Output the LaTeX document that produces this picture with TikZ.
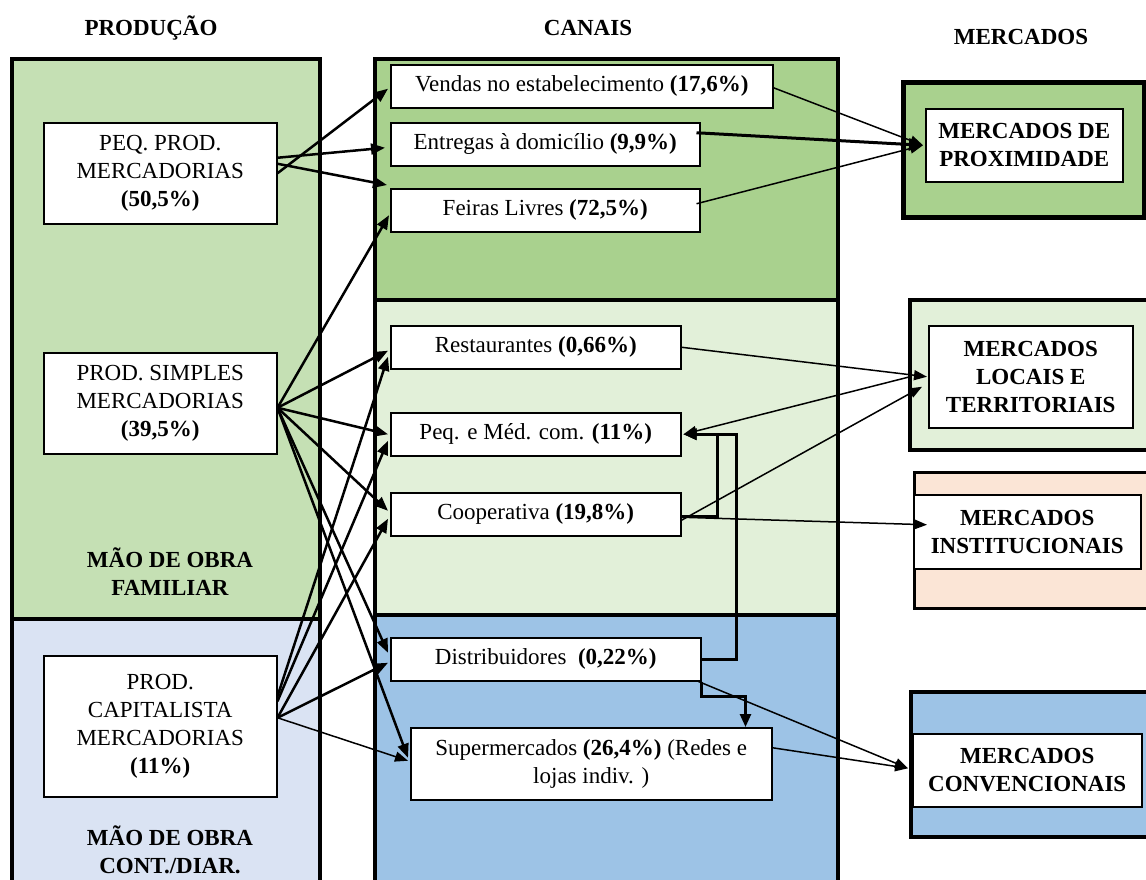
\documentclass[tikz,border=0pt]{standalone}
\usepackage{fontspec}
\setmainfont{Liberation Serif}
\usetikzlibrary{arrows.meta,calc}
\definecolor{gdark}{HTML}{A9D18E}
\definecolor{gmid}{HTML}{C5E0B4}
\definecolor{glight}{HTML}{E2F0D9}
\definecolor{bdark}{HTML}{9DC3E6}
\definecolor{blight}{HTML}{DAE3F3}
\definecolor{peach}{HTML}{FBE5D6}
\begin{document}
\begin{tikzpicture}[x=1pt,y=-1pt,
  panel/.style={draw=black,line width=4pt,anchor=north west,inner sep=0pt},
  box/.style={draw=black,line width=1.5pt,fill=white,anchor=north west,inner sep=0pt,align=center,font=\fontsize{23}{28}\selectfont},
  mbox/.style={box,font=\fontsize{23}{28}\selectfont\bfseries},
  head/.style={font=\fontsize{23}{28}\selectfont\bfseries,align=center,inner sep=0pt},
  thick arrow/.style={line width=2.5pt,-{Triangle[length=14pt,width=11pt]}},
  thin arrow/.style={line width=1.5pt,-{Triangle[length=13pt,width=10pt]}},
  bold arrow/.style={line width=3pt,-{Triangle[length=14pt,width=12pt]}},
  elbow/.style={line width=2.5pt,-{Triangle[length=13pt,width=11pt]}}
]
\useasboundingbox (0,0) rectangle (1146,879);
\clip (0,0) rectangle (1146,879);

% headers
\node[head] (hprod) at (151,28) {PRODUÇÃO};
\node[head] (hcan) at (588,28) {CANAIS};
\node[head] (hmer) at (1021,37) {MERCADOS};

% production panels
\node[panel,fill=gmid,minimum width=308pt,minimum height=560pt] (famP) at (10,57) {};
\node[panel,fill=blight,minimum width=308pt,minimum height=290pt] (conP) at (10,617) {};
\node[head] (lfam) at (170,572) {MÃO DE OBRA\\FAMILIAR};
\node[head] (lcon) at (170,850) {MÃO DE OBRA\\CONT./DIAR.};

% channel panels
\node[panel,fill=gdark,minimum width=463pt,minimum height=241pt] (topC) at (373,57) {};
\node[panel,fill=glight,minimum width=463pt,minimum height=315pt] (midC) at (373,298) {};
\node[panel,fill=bdark,minimum width=463pt,minimum height=290pt] (botC) at (373,613) {};

% market panels
\node[panel,fill=gdark,line width=4.5pt,minimum width=241pt,minimum height=135pt] (proxO) at (901,80) {};
\node[panel,fill=glight,minimum width=250pt,minimum height=150pt] (locO) at (908,298) {};
\node[panel,fill=peach,line width=3pt,minimum width=245pt,minimum height=136pt] (instO) at (913,471) {};
\node[panel,fill=bdark,minimum width=249pt,minimum height=145pt] (convO) at (909,690) {};

% production nodes
\node[box,minimum width=233pt,minimum height=101pt] (ppm) at (43,122) {PEQ. PROD.\\MERCADORIAS\\\textbf{(50,5\%)}};
\node[box,minimum width=233pt,minimum height=101pt] (psm) at (43,352) {PROD. SIMPLES\\MERCADORIAS\\\textbf{(39,5\%)}};
\node[box,minimum width=233pt,minimum height=141pt] (pcm) at (43,655) {PROD.\\CAPITALISTA\\MERCADORIAS\\\textbf{(11\%)}};

% channel nodes
\node[box,minimum width=382pt,minimum height=43pt] (vendas) at (390,64) {Vendas no estabelecimento \textbf{(17,6\%)}};
\node[box,minimum width=309pt,minimum height=43pt] (entregas) at (390,122) {Entregas à domicílio \textbf{(9,9\%)}};
\node[box,minimum width=309pt,minimum height=43pt] (feiras) at (390,188) {Feiras Livres \textbf{(72,5\%)}};
\node[box,minimum width=290pt,minimum height=43pt] (rest) at (390,325) {Restaurantes \textbf{(0,66\%)}};
\node[box,minimum width=290pt,minimum height=43pt] (peqmed) at (390,412) {Peq. e Méd. com. \textbf{(11\%)}};
\node[box,minimum width=290pt,minimum height=43pt] (coop) at (390,492) {Cooperativa \textbf{(19,8\%)}};
\node[box,minimum width=310pt,minimum height=43pt] (distrib) at (390,637) {Distribuidores~ \textbf{(0,22\%)}};
\node[box,minimum width=361pt,minimum height=72pt] (super) at (410,727) {Supermercados \textbf{(26,4\%)} (Redes e\\lojas indiv. )};

% market nodes
\node[mbox,minimum width=197pt,minimum height=73pt] (prox) at (925,108) {MERCADOS DE\\PROXIMIDADE};
\node[mbox,minimum width=204pt,minimum height=102pt] (locais) at (928,325) {MERCADOS\\LOCAIS E\\TERRITORIAIS};
\node[mbox,minimum width=227pt,minimum height=74pt] (inst) at (913,494) {MERCADOS\\INSTITUCIONAIS};
\node[mbox,minimum width=229pt,minimum height=73pt] (conv) at (912,733) {MERCADOS\\CONVENCIONAIS};

% production -> channels
\draw[thick arrow] (ppm.east) -- ([xshift=-2pt,yshift=-2.5pt]vendas.west);
\draw[thick arrow] ([yshift=15.5pt]ppm.east) -- ([xshift=-5pt,yshift=-3.5pt]entregas.west);
\draw[thick arrow] ([yshift=9.5pt]ppm.east) -- ([xshift=-3pt,yshift=3pt]feiras.north west);

\draw[thick arrow] ([yshift=-4.5pt]psm.east) -- ([xshift=-1pt,yshift=-5pt]feiras.west);
\draw[thick arrow] ([yshift=-4.5pt]psm.east) -- ([xshift=-2pt,yshift=-3.5pt]rest.west);
\draw[thick arrow] ([yshift=-4.5pt]psm.east) -- ([xshift=-2pt]peqmed.west);
\draw[thick arrow] ([yshift=-4.5pt]psm.east) -- ([xshift=-2pt,yshift=3.5pt]coop.west);
\draw[thick arrow] ([yshift=-4.5pt]psm.east) -- ([xshift=-2pt,yshift=6.5pt]distrib.west);
\draw[thick arrow] ([yshift=-4.5pt]psm.east) -- ([xshift=-2pt,yshift=6pt]super.west);

\draw[thick arrow] ([yshift=30pt]pcm.east) -- ([xshift=-2pt,yshift=-9.5pt]rest.west);
\draw[thick arrow] ([yshift=25pt]pcm.east) -- ([xshift=-2pt,yshift=-6.5pt]peqmed.west);
\draw[thick arrow] ([yshift=8.5pt]pcm.east) -- ([xshift=-2pt,yshift=-4.5pt]coop.west);
\draw[thick arrow] ([yshift=8.5pt]pcm.east) -- ([xshift=-2pt,yshift=-3.5pt]distrib.west);
\draw[thin arrow] ([yshift=8.5pt]pcm.east) -- ([xshift=-2pt,yshift=3pt]super.west);

% channels -> markets
\draw[thin arrow] ([yshift=-1.5pt]vendas.east) -- ([xshift=-2pt]prox.west);
\draw[bold arrow] ([xshift=-4pt,yshift=11.5pt]entregas.east) -- ([xshift=-2pt]prox.west);
\draw[thin arrow] ([xshift=-4pt,yshift=6.5pt]feiras.east) -- ([xshift=-2pt]prox.west);

\draw[thin arrow] (rest.east) -- ([xshift=-1pt]locais.west);
\draw[thin arrow] ([xshift=-18pt]locais.west) -- ([xshift=2pt]peqmed.east);
\draw[thin arrow] ([yshift=-6pt]coop.east) -- ([xshift=-6pt,yshift=-10pt]locais.west);
\draw[thin arrow] ([yshift=-3pt]coop.east) -- ([xshift=14pt,yshift=7pt]inst.west);

\draw[elbow] ([yshift=-2pt]coop.east) -| ([xshift=36pt]peqmed.east) -- ([xshift=2pt]peqmed.east);
\draw[elbow] (distrib.east) -| ([xshift=55pt]peqmed.east) -- ([xshift=2pt]peqmed.east);
\draw[elbow] (distrib.south east) -- ++(0,15) -| ([xshift=-27pt]super.north east);

\draw[thin arrow] ([xshift=-3pt]distrib.south east) -- ([xshift=-4pt,yshift=2pt]conv.west);
\draw[thin arrow] ([yshift=16pt]super.east) -- ([xshift=-4pt,yshift=2pt]conv.west);
\end{tikzpicture}
\end{document}
